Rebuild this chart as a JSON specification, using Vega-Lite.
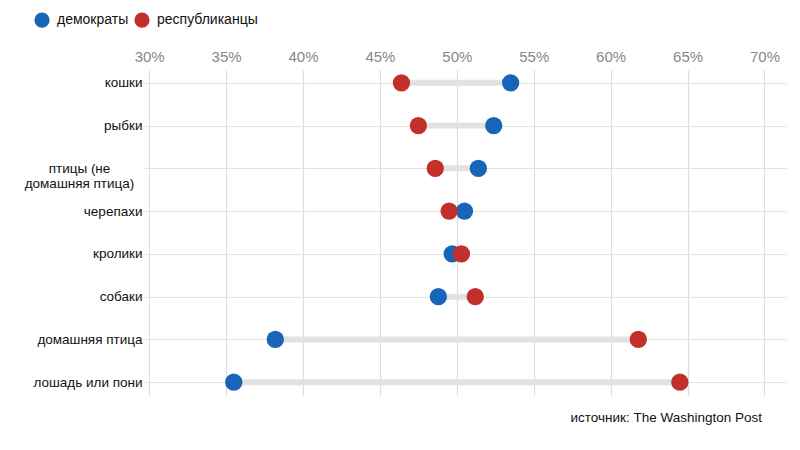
{
  "$schema": "https://vega.github.io/schema/vega-lite/v6.json",
  "width": 643,
  "height": 325,
  "autosize": "none",
  "padding": {"left": 143, "top": 70, "right": 14, "bottom": 55},
  "background": "white",
  "config": {"view": {"stroke": null}, "font": "Liberation Sans"},
  "title": {
    "text": "источник: The Washington Post",
    "orient": "bottom",
    "anchor": "end",
    "offset": 16,
    "dx": -24,
    "fontSize": 13.5,
    "fontWeight": "normal",
    "color": "#111111",
    "font": "Liberation Sans"
  },
  "data": {
    "values": [
      {"animal": "кошки", "party": "демократы", "value": 53.5},
      {"animal": "кошки", "party": "республиканцы", "value": 46.4},
      {"animal": "рыбки", "party": "демократы", "value": 52.4},
      {"animal": "рыбки", "party": "республиканцы", "value": 47.5},
      {"animal": "птицы (не домашняя птица)", "party": "демократы", "value": 51.4},
      {"animal": "птицы (не домашняя птица)", "party": "республиканцы", "value": 48.6},
      {"animal": "черепахи", "party": "демократы", "value": 50.5},
      {"animal": "черепахи", "party": "республиканцы", "value": 49.5},
      {"animal": "кролики", "party": "демократы", "value": 49.7},
      {"animal": "кролики", "party": "республиканцы", "value": 50.3},
      {"animal": "собаки", "party": "демократы", "value": 48.8},
      {"animal": "собаки", "party": "республиканцы", "value": 51.2},
      {"animal": "домашняя птица", "party": "демократы", "value": 38.2},
      {"animal": "домашняя птица", "party": "республиканцы", "value": 61.8},
      {"animal": "лошадь или пони", "party": "демократы", "value": 35.5},
      {"animal": "лошадь или пони", "party": "республиканцы", "value": 64.5}
    ]
  },
  "encoding": {
    "y": {
      "field": "animal",
      "type": "nominal",
      "sort": null,
      "scale": {"type": "point", "padding": 0.3},
      "axis": {
        "title": null,
        "domain": false,
        "ticks": false,
        "grid": true,
        "gridColor": "#e4e4e4",
        "gridWidth": 1,
        "labelFont": "Liberation Sans",
        "labelFontSize": 13.5,
        "labelColor": "#111111",
        "labelAlign": {"condition": {"test": "datum.value == 'птицы (не домашняя птица)'", "value": "center"}, "value": "right"},
        "labelPadding": {"condition": {"test": "datum.value == 'птицы (не домашняя птица)'", "value": 64}, "value": 1},
        "labelExpr": "datum.value == 'птицы (не домашняя птица)' ? ['птицы (не', 'домашняя птица)'] : datum.value",
        "labelLineHeight": 15
      }
    }
  },
  "layer": [
    {
      "mark": {"type": "rule", "strokeWidth": 6, "color": "#e2e2e2"},
      "encoding": {
        "x": {"aggregate": "min", "field": "value", "type": "quantitative"},
        "x2": {"aggregate": "max", "field": "value"}
      }
    },
    {
      "mark": {"type": "circle", "opacity": 1, "size": 300},
      "encoding": {
        "x": {
          "field": "value",
          "type": "quantitative",
          "scale": {"domain": [29.6, 71.4], "nice": false, "zero": false},
          "axis": {
            "orient": "top",
            "title": null,
            "values": [30, 35, 40, 45, 50, 55, 60, 65, 70],
            "labelExpr": "datum.value + '%'",
            "domain": false,
            "ticks": false,
            "grid": true,
            "gridColor": "#dcdcdc",
            "gridWidth": 1.2,
            "labelFont": "Liberation Sans",
            "labelFontSize": 15,
            "labelColor": "#888888",
            "labelPadding": 6
          }
        },
        "color": {
          "field": "party",
          "type": "nominal",
          "scale": {"domain": ["демократы", "республиканцы"], "range": ["#1864b8", "#c1302b"]},
          "legend": {
            "title": null,
            "orient": "none",
            "direction": "horizontal",
            "legendX": -109,
            "legendY": -58,
            "symbolType": "circle",
            "symbolSize": 230,
            "symbolStrokeWidth": 0,
            "labelFontSize": 14,
            "labelColor": "#111111",
            "labelFont": "Liberation Sans",
            "columnPadding": 5,
            "labelOffset": 7
          }
        },
        "order": {"field": "party", "sort": "ascending"}
      }
    }
  ]
}
